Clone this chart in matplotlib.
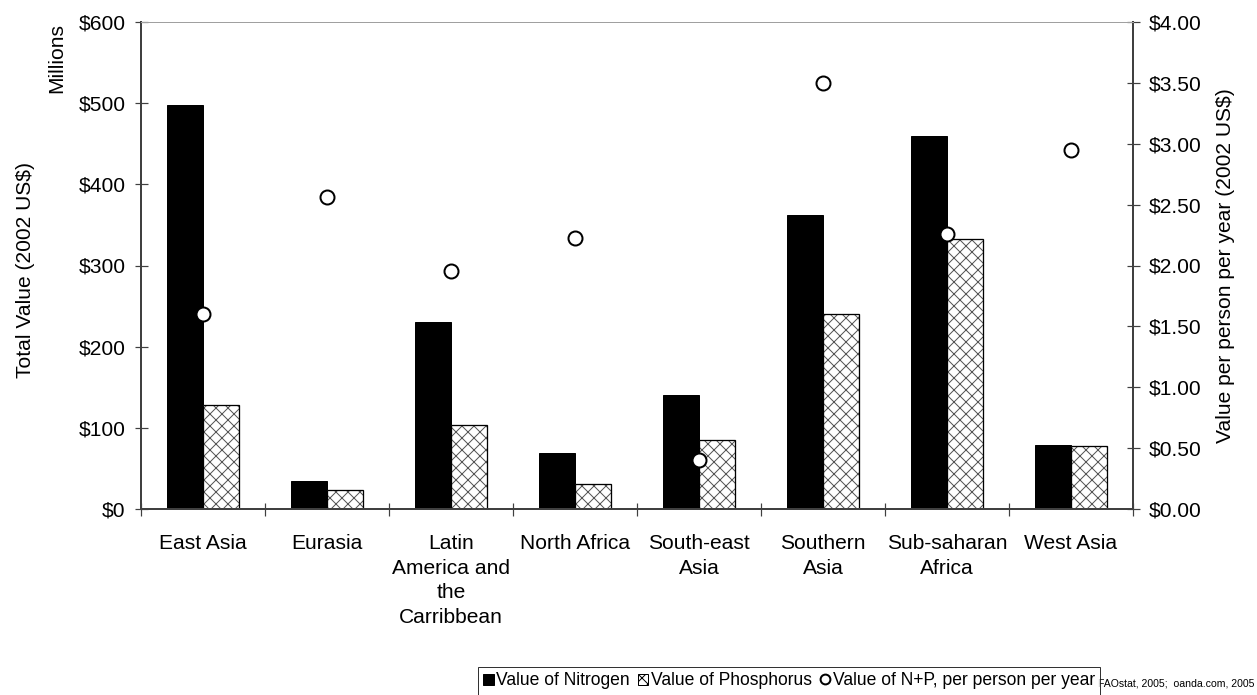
import matplotlib
matplotlib.use('Agg')
import matplotlib.pyplot as plt
import numpy as np

plt.rcParams['font.family'] = ['Liberation Sans', 'DejaVu Sans']
plt.rcParams['hatch.linewidth'] = 1.0

# data
regions = ['East Asia', 'Eurasia', 'Latin\nAmerica and\nthe\nCarribbean', 'North Africa',
           'South-east\nAsia', 'Southern\nAsia', 'Sub-saharan\nAfrica', 'West Asia']
nitrogen = [498, 34, 231, 69, 141, 362, 459, 79]        # millions US$
phosphorus = [128, 24, 104, 31, 85, 240, 333, 78]       # millions US$
per_person = [1.60, 2.565, 1.955, 2.225, 0.40, 3.50, 2.26, 2.95]  # US$ per person per year

left_ticks = [0, 100, 200, 300, 400, 500, 600]
right_ticks = [0, 0.5, 1.0, 1.5, 2.0, 2.5, 3.0, 3.5, 4.0]

fig = plt.figure(figsize=(1257 / 72, 695 / 72), dpi=72)
ax = fig.add_axes([141 / 1257, 1 - 509 / 695, 992 / 1257, 487 / 695])
ax2 = ax.twinx()

x = np.arange(len(regions))
w = 0.29
ax.bar(x - w / 2, nitrogen, w, color='black', edgecolor='black', linewidth=1, label='Value of Nitrogen', zorder=2)
# hatch drawn in grey, outline in black on top
ax.bar(x + w / 2, phosphorus, w, color='white', edgecolor='#555555', hatch='xx', linewidth=0, zorder=2)
ax.bar(x + w / 2, phosphorus, w, fill=False, edgecolor='black', linewidth=1.3, zorder=2)
ph_handle = plt.Rectangle((0, 0), 1, 1, facecolor='white', edgecolor='black', hatch='xx', linewidth=1)
ax2.plot(x, per_person, 'o', ms=14, mfc='white', mec='black', mew=2, label='Value of N+P, per person per year', zorder=3)

fs = 21
ax.set_xlim(-0.5, len(regions) - 0.5)
ax.set_ylim(0, 600)
ax2.set_ylim(0, 4)
ax.set_yticks(left_ticks)
ax.set_yticklabels(['${}'.format(v) for v in left_ticks], fontsize=fs)
ax2.set_yticks(right_ticks)
ax2.set_yticklabels(['${:.2f}'.format(v) for v in right_ticks], fontsize=fs)

# boundaries as major ticks, names at centres
ax.set_xticks(np.arange(len(regions) + 1) - 0.5)
ax.set_xticklabels([])
ax.set_xticks(x, minor=True)
ax.set_xticklabels(regions, minor=True, fontsize=fs, linespacing=1.37)
ax.tick_params(axis='x', which='minor', length=0, pad=25)
ax.tick_params(axis='x', which='major', direction='inout', length=13, width=1.2, color='#404040')
ax.tick_params(axis='y', direction='inout', length=13, width=1.2, color='#404040', pad=9)
ax2.tick_params(axis='y', direction='inout', length=13, width=1.2, color='#404040', pad=9)

for a in (ax, ax2):
    for s in ('left', 'right', 'bottom'):
        a.spines[s].set_color('#404040')
        a.spines[s].set_linewidth(2)
    a.spines['top'].set_color('#a0a0a0')
    a.spines['top'].set_linewidth(1)

ax.set_ylabel('Total Value (2002 US$)', fontsize=fs)
ax.yaxis.set_label_coords(-0.107, 0.49)
ax2.set_ylabel('Value per person per year (2002 US$)', fontsize=fs)
ax2.yaxis.set_label_coords(1.084, 0.5)
fig.text(57 / 1257, 1 - 58 / 695, 'Millions', rotation=90, fontsize=fs, ha='center', va='center')

h1, l1 = ax.get_legend_handles_labels()
h2, l2 = ax2.get_legend_handles_labels()
leg = fig.legend(h1 + [ph_handle] + h2, l1 + ['Value of Phosphorus'] + l2, loc='upper left',
                 bbox_to_anchor=(478 / 1257, 1 - 667 / 695),
                 ncol=3, fontsize=17.5, frameon=True, fancybox=False, handlelength=0.6,
                 handleheight=0.6, handletextpad=0.15, columnspacing=0.45, borderpad=0.3,
                 borderaxespad=0, markerscale=0.7)
leg.get_frame().set_edgecolor('black')
leg.get_frame().set_linewidth(1)

fig.text(1254 / 1257, 1 - 684 / 695, 'FAOstat, 2005;  oanda.com, 2005', fontsize=10.5,
         ha='right', va='center')

fig.savefig('out.png', dpi=72)
